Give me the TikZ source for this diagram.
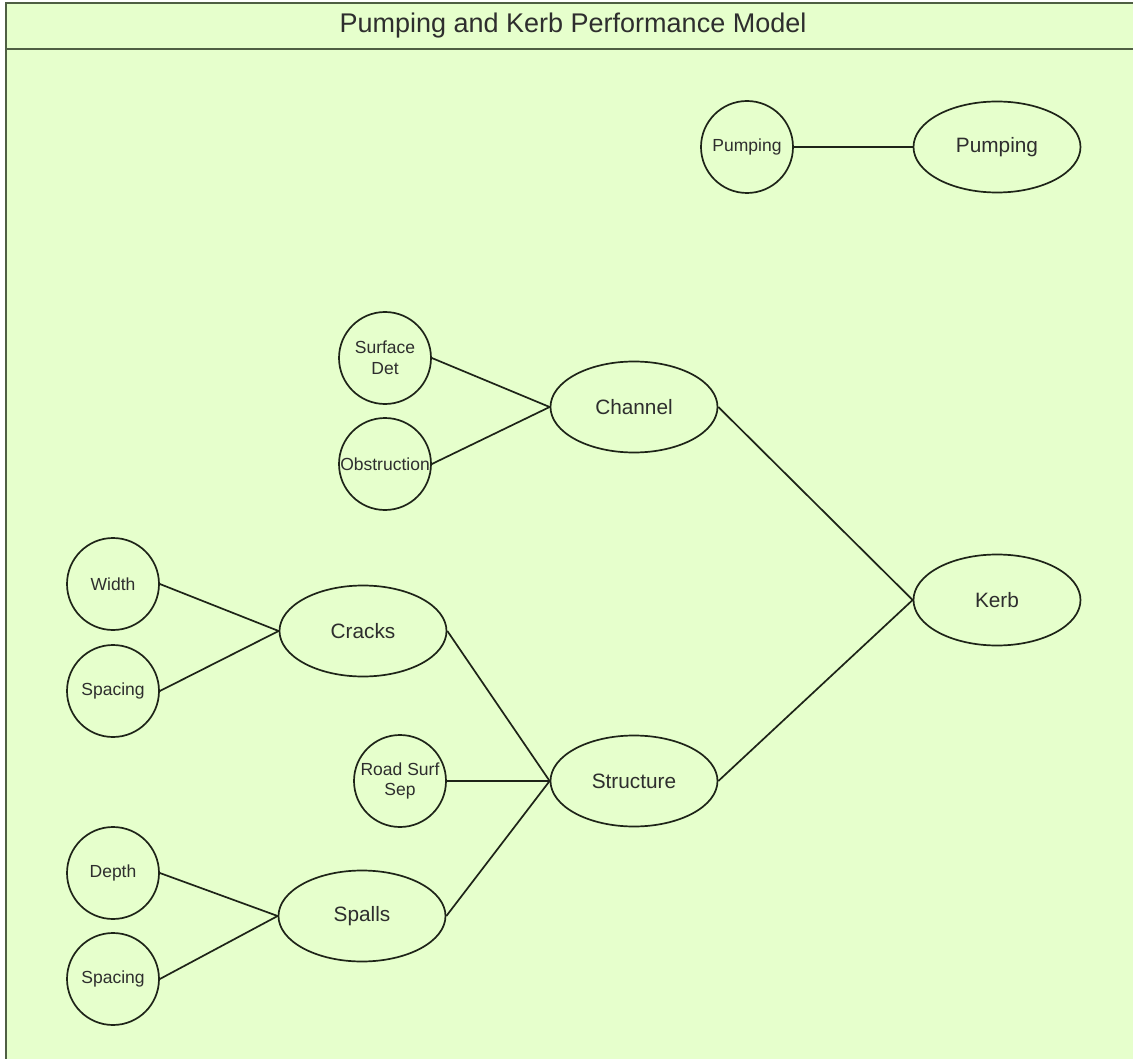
\documentclass[tikz,border=0pt]{standalone}
\usepackage{fontspec}
\setmainfont{Liberation Sans}
\usetikzlibrary{shapes.geometric}
\definecolor{panelfill}{HTML}{E6FFCC}
\definecolor{panelline}{HTML}{4F5F43}
\definecolor{inkline}{HTML}{1E2418}
\definecolor{inktext}{HTML}{2E2E2E}
\begin{document}
\begin{tikzpicture}[x=1pt,y=-1pt,
  factor/.style={circle, draw=inkline, line width=1.7pt, minimum size=92pt,
    inner sep=0pt, align=center, text=inktext,
    font=\fontsize{17.5}{20.5}\selectfont},
  group/.style={ellipse, draw=inkline, line width=1.7pt, minimum width=167pt,
    minimum height=91pt, inner sep=0pt, text=inktext,
    font=\fontsize{20.8}{24}\selectfont},
  link/.style={draw=inkline, line width=1.7pt}]
\useasboundingbox (0,0) rectangle (1133,1059);
\fill[white] (0,0) rectangle (1133,1059);
% container panel with its title bar
\begin{scope}
  \clip (0,0) rectangle (1133,1059);
  \draw[panelline, fill=panelfill, line width=2pt] (6,3) rectangle (1160,1090);
  \draw[panelline, line width=2pt] (6,49) -- (1160,49);
\end{scope}
\node[text=inktext, font=\fontsize{27}{30}\selectfont] (title) at (573,26)
  {Pumping and Kerb Performance Model};

% pumping
\node[factor] (pumpf) at (747,147) {Pumping};
\node[group]  (pumpg) at (997,147) {Pumping};

% channel branch
\node[factor] (surf) at (385,358) {Surface\\Det};
\node[factor] (obst) at (385,464) {Obstruction};
\node[group]  (channel) at (634,407) {Channel};

% kerb
\node[group] (kerb) at (997,600) {Kerb};

% cracks
\node[factor] (cwidth) at (113,584) {Width};
\node[factor] (cspace) at (113,691) {Spacing};
\node[group]  (cracks) at (363,631) {Cracks};

% structure
\node[factor] (road) at (400,781) {Road Surf\\Sep};
\node[group]  (structure) at (634,781) {Structure};

% spalls
\node[factor] (depth) at (113,873) {Depth};
\node[factor] (sspace) at (113,979) {Spacing};
\node[group]  (spalls) at (362,916) {Spalls};

% connectors
\draw[link] (pumpf.east) -- (pumpg.west);
\draw[link] (surf.east) -- (channel.west);
\draw[link] (obst.east) -- (channel.west);
\draw[link] (channel.east) -- (kerb.west);
\draw[link] (cwidth.east) -- (cracks.west);
\draw[link] (cspace.east) -- (cracks.west);
\draw[link] (cracks.east) -- (structure.west);
\draw[link] (road.east) -- (structure.west);
\draw[link] (spalls.east) -- (structure.west);
\draw[link] (depth.east) -- (spalls.west);
\draw[link] (sspace.east) -- (spalls.west);
\draw[link] (structure.east) -- (kerb.west);
\end{tikzpicture}
\end{document}
